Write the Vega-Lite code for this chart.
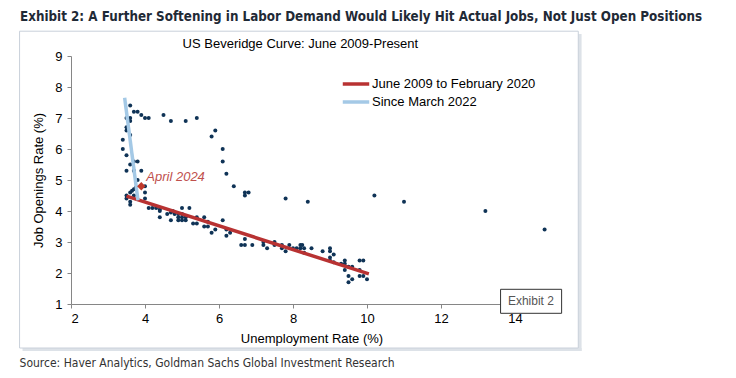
{
  "$schema": "https://vega.github.io/schema/vega-lite/v6.json",
  "width": 481,
  "height": 248,
  "autosize": {"type": "none"},
  "padding": {"left": 71, "top": 56, "right": 184, "bottom": 74},
  "background": "white",
  "config": {
    "view": {"stroke": null},
    "font": "Liberation Sans",
    "axis": {"labelOverlap": false, "labelSeparation": 0, "labelBound": false},
    "axisY": {"tickCount": 9, "labelOverlap": false},
    "axisX": {"tickCount": 7, "labelOverlap": false}
  },
  "title": {
    "text": "Exhibit 2: A Further Softening in Labor Demand Would Likely Hit Actual Jobs, Not Just Open Positions",
    "anchor": "start",
    "frame": "group",
    "dx": -51,
    "offset": 7,
    "font": "Liberation Sans Narrow, DejaVu Sans Condensed, sans-serif",
    "fontSize": 13.3,
    "fontWeight": "bold",
    "color": "#1f2a36"
  },
  "datasets": {
    "one": [{}],
    "obs": [
      {"u": 14.8, "jo": 3.4}, {"u": 13.2, "jo": 4.0}, {"u": 11.0, "jo": 4.3}, {"u": 10.2, "jo": 4.5},
      {"u": 8.4, "jo": 4.3}, {"u": 7.8, "jo": 4.4}, {"u": 6.8, "jo": 4.6}, {"u": 6.7, "jo": 4.6},
      {"u": 6.7, "jo": 4.5}, {"u": 6.4, "jo": 4.8}, {"u": 6.2, "jo": 5.2}, {"u": 6.1, "jo": 5.6},
      {"u": 6.1, "jo": 6.0}, {"u": 5.8, "jo": 6.4}, {"u": 5.9, "jo": 6.6}, {"u": 5.4, "jo": 7.0},
      {"u": 5.1, "jo": 6.9}, {"u": 4.7, "jo": 6.9}, {"u": 4.5, "jo": 7.1}, {"u": 4.1, "jo": 7.0},
      {"u": 4.0, "jo": 7.0}, {"u": 3.9, "jo": 7.1}, {"u": 3.8, "jo": 7.2}, {"u": 3.7, "jo": 7.2},
      {"u": 3.6, "jo": 7.4},
      {"u": 3.6, "jo": 7.0}, {"u": 3.5, "jo": 7.0}, {"u": 3.6, "jo": 6.9}, {"u": 3.5, "jo": 6.7},
      {"u": 3.5, "jo": 6.6}, {"u": 3.6, "jo": 6.45}, {"u": 3.4, "jo": 6.3}, {"u": 3.4, "jo": 6.0},
      {"u": 3.5, "jo": 5.8}, {"u": 3.6, "jo": 5.5}, {"u": 3.7, "jo": 5.6}, {"u": 3.8, "jo": 5.6},
      {"u": 3.5, "jo": 5.3}, {"u": 3.7, "jo": 5.3}, {"u": 3.9, "jo": 5.3}, {"u": 3.8, "jo": 5.0},
      {"u": 3.5, "jo": 4.5}, {"u": 3.5, "jo": 4.4}, {"u": 3.6, "jo": 4.6}, {"u": 3.6, "jo": 4.3},
      {"u": 3.6, "jo": 4.2}, {"u": 3.65, "jo": 4.65}, {"u": 3.7, "jo": 4.7}, {"u": 3.7, "jo": 4.5},
      {"u": 3.75, "jo": 4.75}, {"u": 4.0, "jo": 4.8}, {"u": 4.0, "jo": 4.6}, {"u": 4.0, "jo": 4.4},
      {"u": 4.1, "jo": 4.1}, {"u": 4.2, "jo": 4.1}, {"u": 4.3, "jo": 4.1}, {"u": 4.4, "jo": 4.05},
      {"u": 4.4, "jo": 4.0}, {"u": 4.4, "jo": 3.8}, {"u": 4.6, "jo": 3.9}, {"u": 4.7, "jo": 3.95},
      {"u": 4.75, "jo": 4.0}, {"u": 4.8, "jo": 3.9}, {"u": 4.9, "jo": 3.9}, {"u": 5.0, "jo": 3.9},
      {"u": 4.9, "jo": 3.8}, {"u": 5.0, "jo": 4.1}, {"u": 5.0, "jo": 3.8}, {"u": 5.1, "jo": 3.8},
      {"u": 4.7, "jo": 3.7}, {"u": 4.9, "jo": 3.7}, {"u": 5.0, "jo": 3.7}, {"u": 5.1, "jo": 3.7},
      {"u": 5.2, "jo": 4.1}, {"u": 5.3, "jo": 3.6}, {"u": 5.4, "jo": 3.6}, {"u": 5.4, "jo": 3.8},
      {"u": 5.6, "jo": 3.8}, {"u": 5.6, "jo": 3.5}, {"u": 5.7, "jo": 3.5}, {"u": 5.7, "jo": 3.65},
      {"u": 5.8, "jo": 3.3}, {"u": 5.9, "jo": 3.4}, {"u": 6.1, "jo": 3.7}, {"u": 6.2, "jo": 3.2},
      {"u": 6.2, "jo": 3.4}, {"u": 6.3, "jo": 3.3}, {"u": 6.6, "jo": 2.9}, {"u": 6.7, "jo": 2.9},
      {"u": 6.7, "jo": 3.1}, {"u": 6.9, "jo": 2.9},
      {"u": 7.2, "jo": 3.0}, {"u": 7.2, "jo": 2.9}, {"u": 7.3, "jo": 2.8}, {"u": 7.5, "jo": 3.0},
      {"u": 7.5, "jo": 2.9}, {"u": 7.7, "jo": 2.9}, {"u": 7.7, "jo": 2.8}, {"u": 7.8, "jo": 2.7},
      {"u": 7.9, "jo": 2.9}, {"u": 8.0, "jo": 2.8}, {"u": 8.1, "jo": 2.8}, {"u": 8.2, "jo": 2.9},
      {"u": 8.25, "jo": 2.9}, {"u": 8.2, "jo": 2.8}, {"u": 8.3, "jo": 2.8}, {"u": 8.3, "jo": 2.65},
      {"u": 8.5, "jo": 2.8}, {"u": 8.8, "jo": 2.7}, {"u": 9.0, "jo": 2.8}, {"u": 9.0, "jo": 2.7},
      {"u": 9.0, "jo": 2.5}, {"u": 9.0, "jo": 2.4}, {"u": 9.1, "jo": 2.6}, {"u": 9.1, "jo": 2.35},
      {"u": 9.3, "jo": 2.3}, {"u": 9.4, "jo": 2.4}, {"u": 9.4, "jo": 2.3}, {"u": 9.4, "jo": 2.1},
      {"u": 9.5, "jo": 2.2}, {"u": 9.6, "jo": 2.2}, {"u": 9.5, "jo": 1.9}, {"u": 9.5, "jo": 1.7},
      {"u": 9.6, "jo": 1.8}, {"u": 9.8, "jo": 2.4}, {"u": 9.9, "jo": 2.4}, {"u": 9.8, "jo": 2.1},
      {"u": 9.8, "jo": 1.9}, {"u": 9.9, "jo": 1.9}, {"u": 10.0, "jo": 1.8}
    ],
    "fits": [
      {"series": "June 2009 to February 2020", "u": 3.5, "jo": 4.48},
      {"series": "June 2009 to February 2020", "u": 10.05, "jo": 1.97},
      {"series": "Since March 2022", "u": 3.45, "jo": 7.65},
      {"series": "Since March 2022", "u": 3.81, "jo": 4.35}
    ],
    "latest": [{"u": 3.9, "jo": 4.8, "label": "April 2024"}]
  },
  "layer": [
    {
      "data": {"name": "one"},
      "mark": {"type": "rect", "fill": "#dde2e8",
        "x": {"expr": "scale('x', 15.71)"}, "x2": {"expr": "scale('x', 15.8)"},
        "y": {"expr": "scale('y', 9.71)"}, "y2": {"expr": "scale('y', -0.52)"}},
      "encoding": {}
    },
    {
      "data": {"name": "one"},
      "mark": {"type": "rect", "fill": "#dde2e8",
        "x": {"expr": "scale('x', 0.69)"}, "x2": {"expr": "scale('x', 15.8)"},
        "y": {"expr": "scale('y', -0.42)"}, "y2": {"expr": "scale('y', -0.52)"}},
      "encoding": {}
    },
    {
      "data": {"name": "one"},
      "mark": {"type": "rect", "fill": null, "fillOpacity": 0, "stroke": "#c9d0da", "strokeWidth": 1,
        "x": {"expr": "scale('x', 0.61)"}, "x2": {"expr": "scale('x', 15.71)"},
        "y": {"expr": "scale('y', 9.8)"}, "y2": {"expr": "scale('y', -0.42)"}},
      "encoding": {}
    },
    {
      "data": {"name": "one"},
      "mark": {"type": "text", "text": "US Beveridge Curve: June 2009-Present", "align": "center", "baseline": "middle", "fontSize": 13, "color": "#000",
        "x": {"expr": "scale('x', 8.2)"}, "y": {"expr": "scale('y', 9.39)"}},
      "encoding": {}
    },
    {
      "data": {"name": "one"},
      "mark": {"type": "text", "text": "Source: Haver Analytics, Goldman Sachs Global Investment Research", "align": "left", "baseline": "middle", "fontSize": 12, "font": "Liberation Sans Narrow, DejaVu Sans Condensed, sans-serif", "color": "#333333",
        "x": {"expr": "scale('x', 0.61)"}, "y": {"expr": "scale('y', -0.9)"}},
      "encoding": {}
    },
    {
      "data": {"name": "obs"},
      "mark": {"type": "point", "filled": true, "shape": "circle", "size": 16, "color": "#0f3356", "opacity": 1},
      "encoding": {
        "x": {"field": "u", "type": "quantitative",
          "scale": {"domain": [2, 15], "nice": false, "zero": false},
          "axis": {"values": [2, 4, 6, 8, 10, 12, 14], "tickCount": 7, "title": "Unemployment Rate (%)", "grid": false, "labelOverlap": false,
            "domainColor": "#868686", "tickColor": "#868686", "tickSize": 4, "labelFontSize": 13, "labelColor": "#000",
            "labelPadding": 4, "titleFontSize": 13, "titleFontWeight": "normal", "titleColor": "#000", "titlePadding": 7}},
        "y": {"field": "jo", "type": "quantitative",
          "scale": {"domain": [1, 9], "nice": false, "zero": false},
          "axis": {"values": [1, 2, 3, 4, 5, 6, 7, 8, 9], "tickCount": 9, "title": "Job Openings Rate (%)", "grid": false, "labelOverlap": false,
            "domainColor": "#868686", "tickColor": "#868686", "tickSize": 4, "labelFontSize": 13, "labelColor": "#000",
            "labelPadding": 5, "titleFontSize": 13, "titleFontWeight": "normal", "titleColor": "#000", "titlePadding": 9}}
      }
    },
    {
      "data": {"name": "fits"},
      "mark": {"type": "line", "strokeWidth": 3.5},
      "encoding": {
        "x": {"field": "u", "type": "quantitative"},
        "y": {"field": "jo", "type": "quantitative"},
        "color": {"field": "series", "type": "nominal",
          "scale": {"domain": ["June 2009 to February 2020", "Since March 2022"], "range": ["#b83232", "#a4c9e6"]},
          "legend": {"orient": "none", "legendX": 270, "legendY": 19, "title": null, "symbolType": "stroke",
            "symbolSize": 700, "symbolStrokeWidth": 3.5, "labelFontSize": 13, "labelColor": "#000", "labelFont": "Liberation Sans",
            "labelOffset": 1, "labelLimit": 400, "clipHeight": 18, "rowPadding": 0, "padding": 0}}
      }
    },
    {
      "data": {"name": "latest"},
      "mark": {"type": "point", "shape": "diamond", "filled": true, "size": 70, "color": "#c0392b", "opacity": 1},
      "encoding": {
        "x": {"field": "u", "type": "quantitative"},
        "y": {"field": "jo", "type": "quantitative"}
      }
    },
    {
      "data": {"name": "latest"},
      "mark": {"type": "text", "align": "left", "baseline": "middle", "dx": 5, "dy": -9, "fontSize": 13, "fontStyle": "italic", "color": "#c0504d"},
      "encoding": {
        "x": {"field": "u", "type": "quantitative"},
        "y": {"field": "jo", "type": "quantitative"},
        "text": {"field": "label"}
      }
    },
    {
      "data": {"name": "one"},
      "mark": {"type": "rect", "fill": "white", "stroke": "#333333", "strokeWidth": 1,
        "x": {"expr": "scale('x', 13.61)"}, "x2": {"expr": "scale('x', 15.26)"},
        "y": {"expr": "scale('y', 1.474)"}, "y2": {"expr": "scale('y', 0.7)"}},
      "encoding": {}
    },
    {
      "data": {"name": "one"},
      "mark": {"type": "text", "text": "Exhibit 2", "align": "center", "baseline": "middle", "fontSize": 12, "color": "#555555",
        "x": {"expr": "scale('x', 14.43)"}, "y": {"expr": "scale('y', 1.09)"}},
      "encoding": {}
    }
  ]
}
